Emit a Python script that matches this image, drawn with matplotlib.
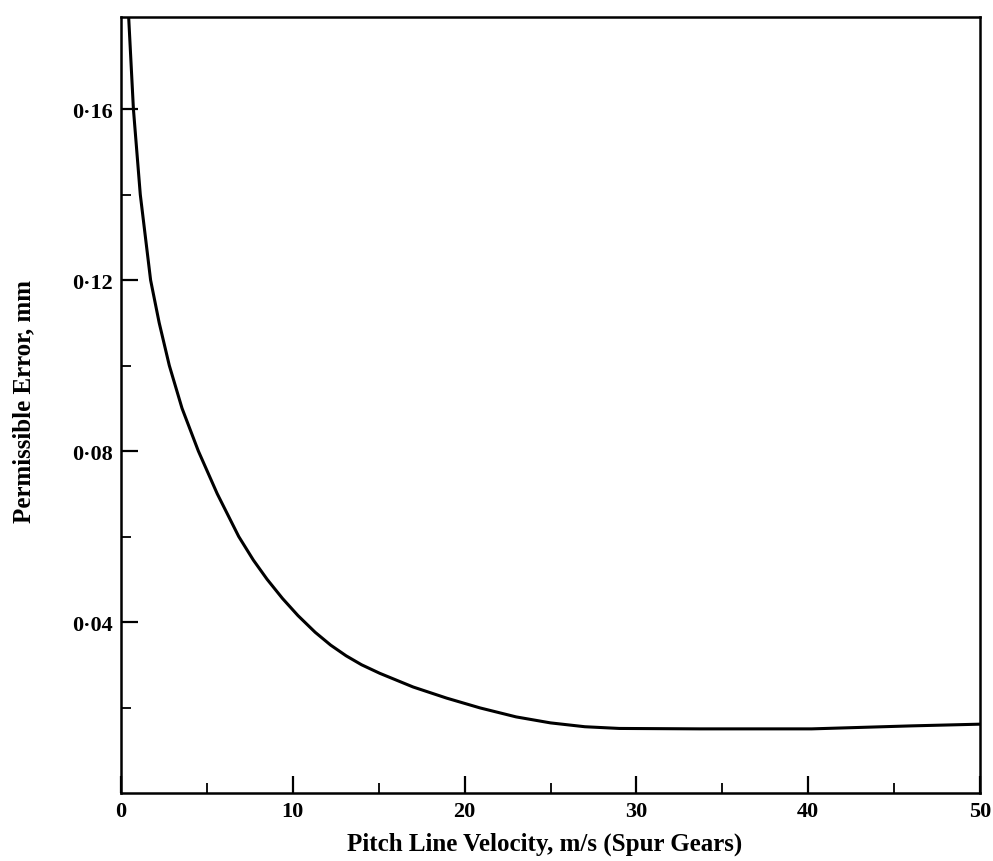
import matplotlib
matplotlib.use("Agg")
import matplotlib.pyplot as plt
from matplotlib.ticker import MultipleLocator, FuncFormatter

velocity = [0.45, 0.72, 1.12, 1.72, 2.22, 2.81, 3.55, 4.5, 5.6, 6.85, 7.7, 8.5,
            9.4, 10.3, 11.3, 12.2, 13.1, 14.0, 15.06, 17.0, 18.95, 20.9, 23.0,
            25.0, 27.0, 29.0, 33.7, 40.2, 46.0, 50.0]
error = [0.181, 0.160, 0.140, 0.120, 0.110, 0.100, 0.090, 0.080, 0.070, 0.060,
         0.0545, 0.0500, 0.0455, 0.0415, 0.0376, 0.0346, 0.0321, 0.0300, 0.0280,
         0.0248, 0.0222, 0.0199, 0.0178, 0.0164, 0.0155, 0.0151, 0.0150, 0.0150,
         0.0157, 0.0161]

x_major = [0, 10, 20, 30, 40, 50]
y_major = [0.04, 0.08, 0.12, 0.16]
y_minor = [0.02, 0.06, 0.10, 0.14]

fig = plt.figure(figsize=(9.93, 8.62), dpi=100)
ax = fig.add_axes([0.1219, 0.0789, 0.8650, 0.900])
ax.plot(velocity, error, color="black", lw=2.2, solid_joinstyle="round")

ax.set_xlim(0, 50)
ax.set_ylim(0, 0.1815)
ax.set_xticks(x_major)
ax.xaxis.set_minor_locator(MultipleLocator(5))
ax.set_yticks(y_major)
ax.set_yticks(y_minor, minor=True)
ax.yaxis.set_major_formatter(FuncFormatter(lambda v, p: f"{v:.2f}".replace(".", "\u00b7")))
ax.xaxis.set_major_formatter(FuncFormatter(lambda v, p: f"{int(v)}"))

font = "Liberation Serif"
ax.tick_params(which="major", direction="in", length=12, width=1.6, labelsize=16, pad=6)
ax.tick_params(which="minor", direction="in", length=7, width=1.3)
for lab in ax.get_xticklabels() + ax.get_yticklabels():
    lab.set_fontfamily(font)
    lab.set_fontweight("bold")
for s in ax.spines.values():
    s.set_linewidth(1.8)

ax.set_xlabel("Pitch Line Velocity, m/s (Spur Gears)", fontsize=18, fontweight="bold",
              fontfamily=font)
ax.set_ylabel("Permissible Error, mm", fontsize=18, fontweight="bold",
              fontfamily=font)
ax.xaxis.set_label_coords(0.4936, -0.050)
ax.yaxis.set_label_coords(-0.100, 0.506)

fig.savefig("out.png", dpi=100)
